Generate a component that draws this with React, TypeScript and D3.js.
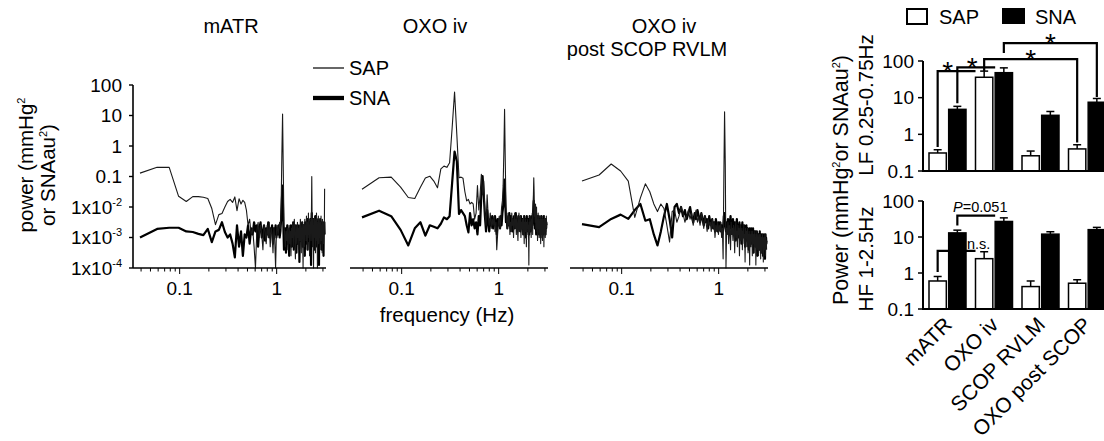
import React from "react";
import * as d3 from "d3";

// spectra: FFT bins spaced FREQ_STEP apart, first bin = 2 (0.039 Hz) up to 3.12 Hz
const FREQ_STEP = 0.0195;
const FIRST_BIN = 2;

// values are log10(power)
const matrSap = [
	-0.89, -0.7, -0.7, -1.65, -1.82, -1.66, -1.66, -1.68, -1.72, -2.05,
	-2.58, -2.25, -2.21, -2.0, -1.82, -1.75, -1.85, -1.67, -2.12, -1.73,
	-1.9, -1.78, -1.85, -2.1, -2.6, -2.4, -2.9, -2.7, -3.3, -4.0,
	-2.8, -2.5, -3.0, -2.6, -2.9, -3.4, -2.6, -2.8, -3.2, -2.6,
	-3.0, -2.5, -3.3, -2.7, -2.9, -3.5, -2.7, -3.1, -4.0, -2.8,
	-2.6, -2.9, -2.7, -2.5, -2.7, -2.0, -0.3, 1.05, -0.8, -2.6,
	-2.9, -3.3, -2.8, -3.1, -2.7, -3.4, -2.9, -2.6, -3.2, -2.8,
	-3.6, -2.7, -3.0, -2.5, -3.3, -2.8, -2.4, -3.0, -3.7, -2.6,
	-2.9, -3.2, -2.5, -3.0, -2.7, -3.4, -2.6, -3.1, -2.4, -2.9,
	-3.5, -2.7, -2.5, -3.0, -4.0, -2.6, -2.8, -3.3, -2.4, -2.9,
	-2.6, -3.1, -2.3, -2.8, -3.4, -2.5, -2.9, -2.2, -3.0, -2.6,
	-3.6, -2.4, -2.8, -2.5, -3.1, -2.3, -1.0, -2.5, -3.3, -2.7,
	-2.4, -4.0, -2.6, -2.9, -2.3, -3.0, -2.5, -3.5, -2.4, -2.8,
	-2.2, -3.1, -2.6, -4.0, -2.5, -2.9, -2.3, -3.2, -2.7, -2.4,
	-3.0, -2.6, -3.4, -2.5, -2.8, -2.3, -3.1, -2.6, -2.9, -3.5,
	-2.4, -2.7, -3.0, -2.5, -3.2, -2.6, -2.9, -2.8, -1.4,
];
const matrSna = [
	-3.0, -2.72, -2.68, -2.68, -2.8, -2.82, -2.88, -2.92, -2.72, -3.15,
	-2.8, -2.75, -2.5, -2.82, -3.0, -2.9, -3.2, -3.65, -2.6, -3.3,
	-2.8, -3.6, -2.9, -3.0, -2.6, -3.2, -2.7, -2.9, -2.5, -2.8,
	-2.6, -3.3, -2.7, -2.5, -3.0, -2.8, -2.6, -3.1, -2.7, -2.9,
	-2.5, -3.0, -2.7, -2.8, -2.6, -3.2, -2.7, -2.9, -2.6, -3.0,
	-2.7, -2.9, -2.6, -3.0, -2.8, -2.4, -1.8, -1.3, -2.5, -3.4,
	-3.0, -2.7, -3.5, -2.9, -2.6, -3.2, -2.8, -3.6, -2.7, -3.0,
	-2.6, -3.3, -2.8, -3.0, -2.5, -3.4, -2.9, -2.7, -3.1, -2.6,
	-3.5, -2.8, -3.0, -2.6, -3.2, -2.7, -3.8, -2.9, -2.6, -3.1,
	-2.7, -3.0, -2.5, -3.3, -2.8, -2.6, -3.1, -2.7, -3.6, -2.5,
	-2.9, -3.2, -2.6, -3.0, -2.4, -3.4, -2.7, -2.9, -2.5, -3.1,
	-2.6, -3.0, -2.4, -2.8, -3.9, -2.6, -2.2, -2.9, -2.5, -3.2,
	-2.7, -2.4, -3.0, -2.6, -3.4, -2.5, -2.8, -2.3, -3.1, -2.6,
	-2.9, -2.4, -3.3, -2.7, -2.5, -3.0, -2.6, -2.8, -3.9, -2.5,
	-2.7, -3.2, -2.4, -2.9, -2.6, -3.1, -2.5, -2.8, -3.4, -2.6,
	-2.9, -2.5, -3.0, -2.7, -3.6, -2.6, -2.8, -2.5, -2.9,
];
const oxoSap = [
	-1.42, -1.04, -1.02, -1.35, -1.69, -1.72, -1.35, -1.05, -0.99, -1.15,
	-1.37, -0.75, -0.66, -0.7, -0.55, 0.6, 1.77, 0.37, -1.04, -1.02,
	-1.06, -1.5, -1.8, -1.75, -1.9, -1.85, -1.9, -2.4, -2.2, -1.3,
	-2.1, -1.6, -0.93, -1.6, -1.15, -2.2, -2.6, -1.6, -2.3, -2.6,
	-2.2, -2.7, -2.4, -2.6, -2.3, -2.8, -2.5, -3.4, -2.9, -2.5,
	-2.3, -2.7, -2.4, -2.0, -1.8, -1.3, -0.2, 1.2, -0.5, -2.0,
	-2.4, -2.7, -2.2, -2.6, -2.3, -2.9, -2.5, -2.8, -2.2, -2.6,
	-2.4, -3.0, -2.5, -2.2, -2.7, -2.4, -2.9, -2.3, -2.6, -3.1,
	-2.5, -2.2, -2.8, -2.6, -2.3, -3.0, -2.5, -2.7, -2.4, -2.9,
	-2.6, -2.3, -3.2, -2.5, -2.8, -2.4, -2.6, -3.3, -2.5, -2.7,
	-2.4, -2.9, -2.6, -3.9, -2.5, -2.8, -2.3, -2.7, -2.5, -3.0,
	-2.4, -2.6, -2.2, -2.9, -1.9, -1.6, -1.04, -1.5, -2.3, -2.0,
	-2.5, -1.9, -2.7, -2.3, -2.0, -2.8, -2.4, -3.1, -2.5, -2.2,
	-2.7, -2.4, -3.0, -2.5, -2.8, -2.3, -2.6, -3.2, -2.4, -2.7,
	-2.5, -2.9, -2.3, -3.1, -2.6, -2.4, -2.8, -2.5, -3.3, -2.6,
	-2.3, -2.7, -2.5, -3.0, -2.4, -2.8, -2.6, -2.3, -2.7,
];
const oxoSna = [
	-2.34, -2.12, -2.3, -2.75, -3.26, -2.7, -2.5, -2.94, -2.6, -2.65,
	-2.7, -2.55, -2.34, -2.4, -2.3, -1.2, -0.18, -0.5, -2.23, -2.1,
	-2.2, -2.3, -2.6, -2.83, -2.2, -2.6, -2.4, -2.7, -2.5, -2.9,
	-2.3, -2.6, -1.6, -0.99, -1.6, -2.3, -2.8, -2.1, -2.5, -2.8,
	-2.4, -2.6, -2.3, -2.7, -2.5, -2.3, -2.6, -2.9, -2.4, -2.6,
	-2.4, -2.7, -2.3, -2.6, -2.2, -2.0, -1.6, -1.1, -1.9, -2.5,
	-2.3, -2.7, -2.4, -2.6, -2.2, -2.5, -2.7, -2.3, -2.5, -2.8,
	-2.4, -2.6, -2.3, -2.7, -2.5, -2.2, -2.6, -2.4, -2.8, -2.5,
	-2.3, -2.7, -2.4, -2.6, -2.8, -2.3, -2.5, -2.7, -2.4, -2.6,
	-2.9, -2.5, -2.3, -2.7, -2.4, -2.6, -3.0, -2.5, -2.3, -2.7,
	-2.5, -2.8, -2.4, -2.6, -2.9, -2.3, -2.6, -2.4, -2.8, -2.5,
	-2.7, -2.3, -2.6, -2.4, -2.2, -2.0, -1.8, -2.1, -2.4, -2.7,
	-2.3, -2.6, -2.4, -2.9, -2.5, -2.7, -2.3, -2.6, -2.8, -2.4,
	-2.6, -2.3, -2.9, -2.5, -2.7, -2.4, -2.6, -3.0, -2.5, -2.3,
	-2.7, -2.5, -2.8, -2.4, -2.6, -2.9, -2.5, -2.7, -2.3, -2.6,
	-2.8, -2.4, -2.6, -2.5, -2.9, -2.4, -2.7, -2.5, -2.6,
];
const scopSap = [
	-1.15, -0.95, -0.59, -0.82, -1.15, -2.34, -1.7, -1.24, -1.5, -1.9,
	-2.15, -1.9, -2.05, -2.6, -3.15, -2.15, -2.1, -2.5, -2.3, -2.0,
	-2.2, -2.5, -2.3, -2.1, -2.4, -2.2, -2.6, -2.3, -2.1, -2.5,
	-2.3, -2.6, -2.2, -2.4, -2.7, -2.3, -2.5, -2.8, -2.4, -2.6,
	-2.5, -2.8, -2.4, -2.7, -2.5, -3.0, -2.6, -2.8, -2.5, -2.9,
	-2.6, -2.8, -2.5, -3.0, -2.7, -3.7, -1.0, 1.12, -0.6, -4.0,
	-2.7, -2.9, -2.5, -3.2, -2.6, -2.8, -3.4, -2.5, -2.9, -2.7,
	-3.1, -2.6, -2.8, -3.5, -2.7, -2.5, -3.0, -2.8, -3.3, -2.6,
	-2.9, -2.7, -3.6, -2.8, -2.6, -3.1, -2.9, -2.7, -3.4, -2.8,
	-3.0, -2.6, -3.2, -2.9, -3.8, -2.7, -3.0, -2.8, -3.3, -2.9,
	-2.7, -3.5, -2.9, -3.1, -2.8, -3.9, -2.9, -3.0, -3.3, -2.8,
	-3.1, -2.9, -3.6, -2.8, -3.0, -3.2, -2.9, -3.5, -3.0, -2.8,
	-3.3, -3.0, -3.9, -2.9, -3.1, -2.8, -3.4, -3.0, -3.2, -2.9,
	-3.6, -3.0, -3.2, -2.9, -3.4, -3.1, -2.9, -3.7, -3.0, -3.2,
	-3.0, -3.5, -3.1, -2.9, -3.3, -3.0, -3.8, -3.1, -3.2, -3.0,
	-3.4, -3.1, -2.9, -3.6, -3.2, -3.0, -3.3, -3.1, -3.4,
];
const scopSna = [
	-2.56, -2.66, -2.39, -2.25, -2.39, -2.1, -1.9, -2.45, -2.4, -2.9,
	-3.26, -2.8, -2.3, -1.9, -2.4, -3.0, -2.0, -1.9, -2.2, -2.0,
	-2.3, -2.1, -2.4, -2.2, -2.0, -2.3, -2.5, -2.2, -2.4, -2.1,
	-2.3, -2.5, -2.2, -2.4, -2.6, -2.3, -2.5, -2.4, -2.7, -2.3,
	-2.5, -2.6, -2.4, -2.7, -2.5, -2.8, -2.4, -2.6, -2.8, -2.5,
	-2.7, -2.5, -2.8, -2.6, -2.9, -2.7, -2.3, -2.2, -2.6, -2.8,
	-2.5, -2.7, -2.4, -2.6, -2.9, -2.5, -2.3, -2.7, -2.5, -2.8,
	-2.4, -2.6, -2.9, -2.5, -2.7, -3.1, -2.6, -2.4, -2.8, -2.6,
	-3.0, -2.7, -2.5, -2.9, -2.6, -2.8, -3.2, -2.7, -2.5, -2.9,
	-2.7, -3.0, -2.6, -2.8, -3.3, -2.7, -2.9, -2.6, -3.1, -2.8,
	-2.7, -3.0, -2.8, -3.4, -2.9, -2.7, -3.1, -2.8, -3.0, -2.7,
	-3.2, -2.9, -2.8, -3.1, -2.7, -3.5, -2.9, -3.0, -2.8, -3.2,
	-3.0, -2.8, -3.3, -2.9, -3.1, -2.8, -3.6, -3.0, -2.9, -3.2,
	-2.9, -3.1, -3.0, -3.4, -2.8, -3.2, -3.0, -2.9, -3.5, -3.1,
	-2.9, -3.3, -3.0, -3.2, -2.9, -3.6, -3.1, -3.0, -3.3, -2.9,
	-3.2, -3.0, -3.7, -3.1, -2.9, -3.3, -3.0, -3.2, -3.1,
];

const panelTitles = [["mATR"], ["OXO iv"], ["OXO iv", "post SCOP RVLM"]];
const powerTicks = [100, 10, 1, 0.1, 0.01, 0.001, 0.0001];
const freqLabels = [0.1, 1];
const freqTicks = [0.04, 0.05, 0.06, 0.07, 0.08, 0.09, 0.1, 0.2, 0.3, 0.4, 0.5, 0.6, 0.7, 0.8, 0.9, 1, 2, 3];

// bar charts
const categories = ["mATR", "OXO iv", "SCOP RVLM", "OXO post SCOP"];
const barSeries = ["SAP", "SNA"];
const lfSap = [0.31, 36, 0.26, 0.4];
const lfSapErr = [0.38, 53, 0.35, 0.52];
const lfSna = [4.8, 48, 3.3, 7.5];
const lfSnaErr = [5.8, 65, 4.2, 9.5];
const hfSap = [0.6, 2.5, 0.42, 0.52];
const hfSapErr = [0.8, 3.9, 0.6, 0.65];
const hfSna = [13, 27, 12, 16];
const hfSnaErr = [15.5, 34, 14, 18.5];
const barTicks = [100, 10, 1, 0.1];

const lfBrackets = [
	{ from: ["mATR", "SAP"], to: ["OXO iv", "SAP"], start: 0.45, level: 53, end: null, label: "*", dx: -9 },
	{ from: ["mATR", "SNA"], to: ["OXO iv", "SNA"], start: 7, level: 67, end: null, label: "*", dx: -4 },
	{ from: ["OXO iv", "SAP"], to: ["OXO post SCOP", "SAP"], start: 53, level: 113, end: 0.6, label: "*", dx: 0 },
	{ from: ["OXO iv", "SNA"], to: ["OXO post SCOP", "SNA"], start: 165, level: 309, end: 10.5, label: "*", dx: 0 },
];
const hfBrackets = [
	{ from: ["mATR", "SAP"], to: ["OXO iv", "SAP"], start: 1.07, level: 4.1, end: null, label: "n.s.", dx: 22 },
	{ from: ["mATR", "SNA"], to: ["OXO iv", "SNA"], start: 21, level: 39, end: null, label: "P=0.051", dx: 4 },
];

const FONT = "'Liberation Sans', Arial, Helvetica, sans-serif";

const spectra = [
	{ sap: matrSap, sna: matrSna, x0: 140, titleX: [231], titleY: [33] },
	{ sap: oxoSap, sna: oxoSna, x0: 362, titleX: [435], titleY: [33] },
	{ sap: scopSap, sna: scopSna, x0: 582, titleX: [664, 647], titleY: [33, 56] },
];

const ySpec = d3.scaleLog().domain([1e-4, 100]).range([268, 85]).clamp(true);

function SpectrumPanel({ panel, index }) {
	const x = d3.scaleLog().domain([0.039, 3.12]).range([panel.x0, panel.x0 + 184.6]);
	const line = d3
		.line()
		.x((d, i) => x((FIRST_BIN + i) * FREQ_STEP))
		.y((d) => ySpec(Math.pow(10, d)));
	const axisStart = index === 0 ? 133 : panel.x0 - 12;
	const axisEnd = panel.x0 + 186;
	return (
		<g>
			{panelTitles[index].map((t, j) => (
				<text key={t} x={panel.titleX[j]} y={panel.titleY[j]} textAnchor="middle" fontSize={20}>
					{t}
				</text>
			))}
			<path d={line(panel.sna)} fill="none" stroke="#000" strokeWidth={2.2} strokeLinejoin="round" />
			<path d={line(panel.sap)} fill="none" stroke="#1a1a1a" strokeWidth={1.1} strokeLinejoin="round" />
			<line x1={axisStart} x2={axisEnd} y1={268} y2={268} stroke="#000" strokeWidth={1.6} />
			{freqTicks.map((f) => (
				<line key={f} x1={x(f)} x2={x(f)} y1={268} y2={f === 0.1 || f === 1 ? 274 : 271.5} stroke="#000" strokeWidth={1} />
			))}
			{freqLabels.map((f) => (
				<text key={f} x={x(f)} y={295} textAnchor="middle" fontSize={19}>
					{f}
				</text>
			))}
		</g>
	);
}

function powerLabel(v) {
	if (v >= 0.1) return <>{String(v)}</>;
	const e = Math.round(Math.log10(v));
	return (
		<>
			1x10
			<tspan dy={-8} fontSize={11}>
				{String(e)}
			</tspan>
		</>
	);
}

function BarChart({ sap, sapErr, sna, snaErr, brackets, top, bottom }) {
	const y = d3.scaleLog().domain([0.1, 100]).range([bottom, top]);
	const x0 = d3.scaleBand().domain(categories).range([924, 1110]);
	const x1 = d3.scaleBand().domain(barSeries).range([5, 42]).paddingInner(0.12);
	const bw = x1.bandwidth();
	const cx = (c, s) => x0(c) + x1(s) + bw / 2;
	const rows = categories.flatMap((c, i) => [
		{ c, s: "SAP", v: sap[i], e: sapErr[i] },
		{ c, s: "SNA", v: sna[i], e: snaErr[i] },
	]);
	const geo = brackets.map((b) => {
		const xa = cx(b.from[0], b.from[1]);
		const xb = b.end == null ? x0(b.to[0]) + x1(b.to[1]) : cx(b.to[0], b.to[1]);
		const ly = y(b.level);
		const pts = [[xa, y(b.start)], [xa, ly], [xb, ly]];
		if (b.end != null) pts.push([xb, y(b.end)]);
		return { b, pts, ly, mid: (xa + xb) / 2 + b.dx };
	});
	return (
		<g>
			{geo.map((g, i) => (
				<path key={i} d={d3.line()(g.pts)} fill="none" stroke="#000" strokeWidth={2.2} />
			))}
			{rows.map((r) => {
				const xl = x0(r.c) + x1(r.s);
				const xc = xl + bw / 2;
				return (
					<g key={r.c + r.s}>
						<line x1={xc} x2={xc} y1={y(r.v)} y2={y(r.e)} stroke="#000" strokeWidth={1.5} />
						<line x1={xc - 4} x2={xc + 4} y1={y(r.e)} y2={y(r.e)} stroke="#000" strokeWidth={1.5} />
						<rect
							x={xl}
							y={y(r.v)}
							width={bw}
							height={bottom - y(r.v)}
							fill={r.s === "SAP" ? "#fff" : "#000"}
							stroke="#000"
							strokeWidth={1.5}
						/>
					</g>
				);
			})}
			{geo.map(({ b, ly, mid }, i) =>
				b.label === "*" ? (
					<text key={i} x={mid} y={ly + 10} textAnchor="middle" fontSize={28}>
						*
					</text>
				) : b.label.startsWith("P") ? (
					<text key={i} x={mid} y={ly - 4} textAnchor="middle" fontSize={14.5}>
						<tspan fontStyle="italic">P</tspan>
						{b.label.slice(1)}
					</text>
				) : (
					<text key={i} x={mid} y={ly - 2} textAnchor="middle" fontSize={14.5}>
						{b.label}
					</text>
				)
			)}
			<line x1={923} x2={923} y1={top} y2={bottom} stroke="#000" strokeWidth={2} />
			<line x1={922} x2={1104} y1={bottom} y2={bottom} stroke="#000" strokeWidth={2} />
			{barTicks.map((t) => (
				<g key={t}>
					<line x1={918} x2={923} y1={y(t)} y2={y(t)} stroke="#000" strokeWidth={1.5} />
					<text x={914} y={y(t) + 6.5} textAnchor="end" fontSize={19}>
						{String(t)}
					</text>
				</g>
			))}
		</g>
	);
}

export default function App() {
	const x0 = d3.scaleBand().domain(categories).range([924, 1110]);
	return (
		<div style={{ position: "absolute", left: 0, top: 0 }}>
			<svg width={1104} height={441} style={{ display: "block", background: "#fff", fontFamily: FONT }}>
				{/* left: spectra */}
				{spectra.map((p, i) => (
					<SpectrumPanel key={i} panel={p} index={i} />
				))}
				<line x1={133} x2={133} y1={85} y2={268} stroke="#000" strokeWidth={1.6} />
				{powerTicks.map((t) => (
					<g key={t}>
						<line x1={129} x2={133} y1={ySpec(t)} y2={ySpec(t)} stroke="#000" strokeWidth={1.4} />
						<text x={122} y={ySpec(t) + 6.5} textAnchor="end" fontSize={19}>
							{powerLabel(t)}
						</text>
					</g>
				))}
				<text transform="translate(33,165) rotate(-90)" textAnchor="middle" fontSize={20.5}>
					power (mmHg<tspan dy={-8} fontSize={11}>2</tspan>
				</text>
				<text transform="translate(55,175) rotate(-90)" textAnchor="middle" fontSize={20.5}>
					or SNAau<tspan dy={-8} fontSize={11}>2</tspan>
					<tspan dy={8}>)</tspan>
				</text>
				<text x={447} y={322} textAnchor="middle" fontSize={20.5}>
					frequency (Hz)
				</text>
				{/* legend for spectra */}
				<line x1={313} x2={344} y1={68} y2={68} stroke="#000" strokeWidth={1.2} />
				<text x={349} y={75} fontSize={20}>SAP</text>
				<line x1={313} x2={344} y1={98} y2={98} stroke="#000" strokeWidth={4.3} />
				<text x={349} y={105} fontSize={20}>SNA</text>

				{/* right: bar charts */}
				<rect x={907} y={9} width={20} height={15} fill="#fff" stroke="#000" strokeWidth={2} />
				<text x={939} y={24} fontSize={20}>SAP</text>
				<rect x={1002} y={8} width={23} height={16} fill="#000" />
				<text x={1035} y={24} fontSize={20}>SNA</text>
				<BarChart sap={lfSap} sapErr={lfSapErr} sna={lfSna} snaErr={lfSnaErr} brackets={lfBrackets} top={61} bottom={171} />
				<BarChart sap={hfSap} sapErr={hfSapErr} sna={hfSna} snaErr={hfSnaErr} brackets={hfBrackets} top={201} bottom={309} />
				<text transform="translate(848,180) rotate(-90)" textAnchor="middle" fontSize={21.5}>
					Power (mmHg<tspan dy={-8} fontSize={11}>2</tspan>
					<tspan dy={8}>or SNAau</tspan>
					<tspan dy={-8} fontSize={11}>2</tspan>
					<tspan dy={8}>)</tspan>
				</text>
				<text transform="translate(873,105) rotate(-90)" textAnchor="middle" fontSize={20.5}>
					LF 0.25-0.75Hz
				</text>
				<text transform="translate(873,259) rotate(-90)" textAnchor="middle" fontSize={20.5}>
					HF 1-2.5Hz
				</text>
				{categories.map((c) => (
					<text
						key={c}
						transform={`translate(${x0(c) + x0.bandwidth() / 2 + 6},${326}) rotate(-45)`}
						textAnchor="end"
						fontSize={21}>
						{c}
					</text>
				))}
			</svg>
		</div>
	);
}
